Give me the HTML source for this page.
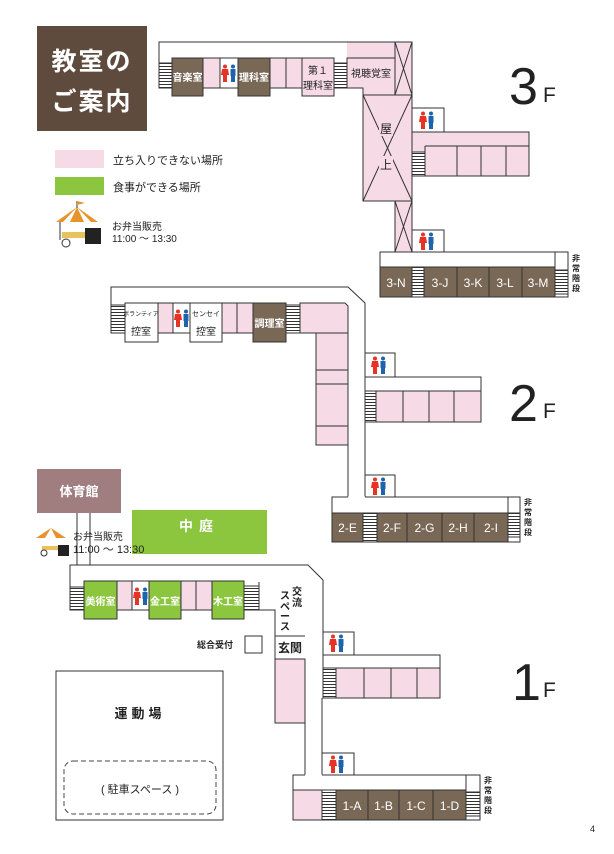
<!DOCTYPE html>
<html><head><meta charset="utf-8"><style>
html,body{margin:0;padding:0;background:#fff}
svg{display:block}
text{font-family:"Liberation Sans","Noto Sans CJK JP",sans-serif}
.l{stroke:#333;stroke-width:1;fill:none}
.p{fill:#f6dbe6;stroke:#333;stroke-width:1}
.w{fill:#fff;stroke:#333;stroke-width:1}
.b{fill:#7a6857;stroke:#333;stroke-width:1}
.g{fill:#8cc63f;stroke:#333;stroke-width:1}
.s{fill:url(#st);stroke:#333;stroke-width:1}
.bt{fill:#fff;font-size:10px;font-weight:bold}
.rt{fill:#fff;font-size:12px}
.kt{fill:#222;font-size:10px}
</style></head><body>
<svg width="614" height="854" viewBox="0 0 614 854" xmlns="http://www.w3.org/2000/svg">
<defs>
<pattern id="st" width="10" height="3" patternUnits="userSpaceOnUse"><rect width="10" height="3" fill="#fff"/><line x1="0" y1="0.5" x2="10" y2="0.5" stroke="#333" stroke-width="1"/></pattern>
<symbol id="wc" viewBox="0 0 16 18"><circle cx="4" cy="2.5" r="2" fill="#e63325"/><path d="M1,5 H7 L8,11 H6 V18 H2 V11 H0 Z" fill="#e63325"/><circle cx="12" cy="2.5" r="2" fill="#1e64ad"/><rect x="9.5" y="5" width="5" height="7" fill="#1e64ad"/><rect x="10" y="11" width="4" height="7" fill="#1e64ad"/></symbol>
</defs>

<rect x="37" y="26" width="110" height="105" fill="#5e4b3d"/>
<text x="92" y="70" text-anchor="middle" font-size="25" font-weight="bold" fill="#fff" letter-spacing="2">教室の</text>
<text x="92" y="110" text-anchor="middle" font-size="25" font-weight="bold" fill="#fff" letter-spacing="2">ご案内</text>
<rect x="55" y="150" width="49" height="18" fill="#f6dbe6"/>
<text x="113" y="164" font-size="11" fill="#222">立ち入りできない場所</text>
<rect x="55" y="177" width="49" height="18" fill="#8cc63f"/>
<text x="113" y="191" font-size="11" fill="#222">食事ができる場所</text>
<g>
<path d="M56,222 L77,207 L98,222 Z" fill="#e8922c"/><path d="M63,222 L77,207 L70,222 Z M77,207 L84,222 L91,222 Z" fill="#fff"/>
<line x1="77" y1="201" x2="77" y2="208" stroke="#333"/><path d="M77,201 L85,203 L77,205Z" fill="#e8922c"/>
<line x1="60" y1="222" x2="60" y2="240" stroke="#333"/><rect x="62" y="232" width="24" height="6" fill="#e8c25a"/>
<circle cx="66" cy="243" r="4" fill="#fff" stroke="#333"/><rect x="85" y="228" width="16" height="16" fill="#222"/>
</g>
<text x="112" y="230" font-size="10" fill="#222">お弁当販売</text>
<text x="112" y="242" font-size="10" fill="#222">11:00 ～ 13:30</text>

<!-- 3F -->
<rect x="347" y="42" width="65" height="16" fill="#f6dbe6"/>
<path class="l" d="M159,63 V42 H412"/>
<rect class="s" x="159" y="63" width="13" height="25"/>
<rect class="b" x="172" y="58" width="31" height="38"/><text class="bt" x="187.5" y="81" text-anchor="middle">音楽室</text>
<rect class="p" x="203" y="58" width="17" height="30"/>
<rect class="w" x="220" y="58" width="18" height="30"/><use href="#wc" x="221" y="64" width="16" height="18"/>
<rect class="b" x="238" y="58" width="32" height="38"/><text class="bt" x="254" y="81" text-anchor="middle">理科室</text>
<rect class="p" x="270" y="58" width="16" height="30"/>
<rect class="p" x="286" y="58" width="16" height="30"/>
<rect class="p" x="302" y="58" width="32" height="38"/>
<text class="kt" x="318" y="74" text-anchor="middle">第１</text><text class="kt" x="318" y="89" text-anchor="middle">理科室</text>
<rect class="s" x="334" y="63" width="13" height="25"/>
<path class="p" d="M347,58 H395 V95 H363 V88 H347 Z"/>
<text class="kt" x="371" y="77" text-anchor="middle">視聴覚室</text>
<rect class="p" x="395" y="42" width="17" height="53"/><path class="l" d="M395,42 L412,95 M412,42 L395,95"/>
<rect class="p" x="363" y="95" width="49" height="106"/><path class="l" d="M363,95 L412,201 M412,95 L363,201"/>
<rect x="379" y="120" width="14" height="16" fill="#f6dbe6"/><text x="386" y="133" font-size="12" fill="#222" text-anchor="middle">屋</text>
<rect x="379" y="156" width="14" height="16" fill="#f6dbe6"/><text x="386" y="169" font-size="12" fill="#222" text-anchor="middle">上</text>
<rect class="p" x="395" y="201" width="17" height="51"/><path class="l" d="M395,201 L412,252 M412,201 L395,252"/>
<rect class="w" x="412" y="108" width="32" height="24"/><use href="#wc" x="419" y="111" width="16" height="18"/>
<rect class="p" x="412" y="132" width="117" height="44"/>
<rect class="s" x="412" y="152" width="13" height="24"/>
<path class="l" d="M425,146 H529 M425,146 V176 M457,146 V176 M481,146 V176 M506,146 V176"/>
<rect class="w" x="412" y="230" width="32" height="22"/><use href="#wc" x="419" y="232" width="16" height="18"/>
<rect class="w" x="380" y="252" width="175" height="15"/>
<rect class="b" x="380" y="267" width="32" height="30"/><text class="rt" x="396" y="287" text-anchor="middle">3-N</text>
<rect class="s" x="412" y="267" width="12" height="30"/>
<rect class="b" x="424" y="267" width="33" height="30"/><text class="rt" x="440" y="287" text-anchor="middle">3-J</text>
<rect class="b" x="457" y="267" width="32" height="30"/><text class="rt" x="473" y="287" text-anchor="middle">3-K</text>
<rect class="b" x="489" y="267" width="33" height="30"/><text class="rt" x="505" y="287" text-anchor="middle">3-L</text>
<rect class="b" x="522" y="267" width="33" height="30"/><text class="rt" x="538" y="287" text-anchor="middle">3-M</text>
<rect class="w" x="555" y="252" width="13" height="45"/><rect class="s" x="555" y="270" width="13" height="24"/>
<text font-size="8" fill="#222" font-weight="bold"><tspan x="572" y="261">非</tspan><tspan x="572" y="271">常</tspan><tspan x="572" y="281">階</tspan><tspan x="572" y="291">段</tspan></text>
<text x="509" y="104" font-size="52" font-weight="300" fill="#222">3</text><text x="543" y="102" font-size="21" fill="#222">F</text>

<!-- 2F -->
<path class="l" d="M111,305 V287 H348 L365,303 V353"/>
<rect class="s" x="111" y="305" width="14" height="28"/>
<rect class="w" x="125" y="303" width="33" height="39"/>
<text x="141" y="316" font-size="6" fill="#222" text-anchor="middle">ボランティア</text><text class="kt" x="141" y="335" text-anchor="middle">控室</text>
<rect class="p" x="158" y="303" width="15" height="30"/>
<rect class="w" x="173" y="303" width="17" height="30"/><use href="#wc" x="174" y="309" width="16" height="18"/>
<rect class="w" x="190" y="303" width="32" height="39"/>
<text x="206" y="316" font-size="7" fill="#222" text-anchor="middle">センセイ</text><text class="kt" x="206" y="335" text-anchor="middle">控室</text>
<rect class="p" x="222" y="303" width="15" height="30"/>
<rect class="p" x="237" y="303" width="16" height="30"/>
<rect class="b" x="253" y="303" width="33" height="39"/><text class="bt" x="269.5" y="327" text-anchor="middle">調理室</text>
<rect class="s" x="286" y="305" width="14" height="28"/>
<path class="p" d="M300,303 H345 L348,306 V445 H316 V333 H300 Z"/>
<path class="l" d="M316,333 H348 M316,370 H348 M316,384 H348 M316,426 H348 M348,333 V497"/>
<rect class="w" x="365" y="353" width="30" height="24"/><use href="#wc" x="371" y="356" width="16" height="18"/>
<rect class="w" x="365" y="377" width="116" height="14"/>
<rect class="p" x="376" y="391" width="105" height="31"/>
<rect class="s" x="365" y="391" width="11" height="31"/>
<path class="l" d="M403,391 V422 M429,391 V422 M454,391 V422 M365,422 V475"/>
<rect class="w" x="365" y="475" width="30" height="22"/><use href="#wc" x="371" y="477" width="16" height="18"/>
<rect class="w" x="332" y="497" width="176" height="16"/>
<line x1="348" y1="497" x2="365" y2="497" stroke="#fff" stroke-width="1"/>
<rect class="b" x="332" y="513" width="31" height="29"/><text class="rt" x="347.5" y="532" text-anchor="middle">2-E</text>
<rect class="s" x="363" y="513" width="14" height="29"/>
<rect class="b" x="377" y="513" width="30" height="29"/><text class="rt" x="392" y="532" text-anchor="middle">2-F</text>
<rect class="b" x="407" y="513" width="35" height="29"/><text class="rt" x="424.5" y="532" text-anchor="middle">2-G</text>
<rect class="b" x="442" y="513" width="32" height="29"/><text class="rt" x="458" y="532" text-anchor="middle">2-H</text>
<rect class="b" x="474" y="513" width="34" height="29"/><text class="rt" x="491" y="532" text-anchor="middle">2-I</text>
<rect class="w" x="508" y="497" width="12" height="45"/><rect class="s" x="508" y="513" width="12" height="24"/>
<text font-size="8" fill="#222" font-weight="bold"><tspan x="524" y="505">非</tspan><tspan x="524" y="515">常</tspan><tspan x="524" y="525">階</tspan><tspan x="524" y="535">段</tspan></text>
<text x="509" y="421" font-size="52" font-weight="300" fill="#222">2</text><text x="543" y="418" font-size="21" fill="#222">F</text>

<!-- 1F -->
<rect x="37" y="469" width="84" height="44" fill="#a07e80"/>
<text x="79" y="496" text-anchor="middle" font-size="13" font-weight="bold" fill="#fff">体育館</text>
<path class="l" d="M77,513 V565 M90,513 V565"/>
<rect x="132" y="510" width="135" height="44" fill="#8cc63f"/>
<text x="199" y="531" text-anchor="middle" font-size="14" font-weight="bold" fill="#fff" letter-spacing="6">中庭</text>
<g>
<path d="M36,538 L51,528 L66,538 Z" fill="#e8922c"/><path d="M45,538 L51,528 L56,538Z" fill="#fff"/>
<rect x="42" y="546" width="18" height="4" fill="#e8c25a"/><circle cx="44" cy="553" r="3" fill="#fff" stroke="#333"/>
<rect x="58" y="545" width="11" height="11" fill="#222"/>
</g>
<text x="73" y="540" font-size="10" fill="#222">お弁当販売</text>
<text x="73" y="553" font-size="11" fill="#222">11:00 ～ 13:30</text>
<path class="l" d="M70,587 V565 H308 L323,580 V632"/>
<rect class="s" x="70" y="587" width="14" height="23"/>
<rect class="g" x="84" y="581" width="33" height="38"/><text class="bt" x="100.5" y="605" text-anchor="middle">美術室</text>
<rect class="p" x="117" y="581" width="15" height="29"/>
<rect class="w" x="132" y="581" width="17" height="29"/><use href="#wc" x="133" y="587" width="16" height="18"/>
<rect class="g" x="149" y="581" width="32" height="38"/><text class="bt" x="165" y="605" text-anchor="middle">金工室</text>
<rect class="p" x="181" y="581" width="15" height="29"/>
<rect class="p" x="196" y="581" width="16" height="29"/>
<rect class="g" x="212" y="581" width="32" height="38"/><text class="bt" x="228" y="605" text-anchor="middle">木工室</text>
<rect class="s" x="244" y="586" width="15" height="24"/>
<path class="l" d="M259,582 V610 M244,610 H275 V723 M275,636 H305 M305,659 V775"/>
<text font-size="10" fill="#222" font-weight="bold"><tspan x="292" y="595">交</tspan><tspan x="292" y="606">流</tspan></text>
<text font-size="10" fill="#222" font-weight="bold"><tspan x="280" y="599">ス</tspan><tspan x="280" y="610">ペ</tspan><tspan x="280" y="620">ー</tspan><tspan x="280" y="630">ス</tspan></text>
<text x="290" y="652" text-anchor="middle" font-size="12" font-weight="bold" fill="#222">玄関</text>
<rect class="p" x="275" y="659" width="30" height="64"/>
<text x="197" y="648" font-size="9" fill="#222" font-weight="bold">総合受付</text>
<rect class="w" x="245" y="636" width="17" height="17"/>
<rect class="w" x="56" y="671" width="167" height="149"/>
<text x="140" y="718" text-anchor="middle" font-size="13" font-weight="bold" fill="#222" letter-spacing="4">運動場</text>
<rect x="64" y="761" width="152" height="53" rx="9" fill="none" stroke="#444" stroke-dasharray="5,3"/>
<text x="140" y="793" text-anchor="middle" font-size="11" fill="#222">( 駐車スペース )</text>
<rect class="w" x="323" y="632" width="31" height="23"/><use href="#wc" x="329" y="634" width="16" height="18"/>
<rect class="w" x="323" y="655" width="117" height="13"/>
<rect class="p" x="336" y="668" width="104" height="30"/>
<rect class="s" x="323" y="668" width="13" height="30"/>
<path class="l" d="M364,668 V698 M391,668 V698 M417,668 V698 M322,698 V753"/>
<rect class="w" x="322" y="753" width="32" height="22"/><use href="#wc" x="329" y="755" width="16" height="18"/>
<rect class="w" x="293" y="775" width="173" height="15"/>
<line x1="305" y1="775" x2="322" y2="775" stroke="#fff"/>
<rect class="p" x="293" y="790" width="29" height="30"/>
<rect class="s" x="322" y="790" width="14" height="30"/>
<rect class="b" x="336" y="790" width="32" height="30"/><text class="rt" x="352" y="810" text-anchor="middle">1-A</text>
<rect class="b" x="368" y="790" width="31" height="30"/><text class="rt" x="383.5" y="810" text-anchor="middle">1-B</text>
<rect class="b" x="399" y="790" width="34" height="30"/><text class="rt" x="416" y="810" text-anchor="middle">1-C</text>
<rect class="b" x="433" y="790" width="33" height="30"/><text class="rt" x="449.5" y="810" text-anchor="middle">1-D</text>
<rect class="w" x="466" y="775" width="14" height="45"/><rect class="s" x="466" y="792" width="14" height="24"/>
<text font-size="8" fill="#222" font-weight="bold"><tspan x="484" y="783">非</tspan><tspan x="484" y="793">常</tspan><tspan x="484" y="803">階</tspan><tspan x="484" y="813">段</tspan></text>
<text x="512" y="700" font-size="52" font-weight="300" fill="#222">1</text><text x="543" y="697" font-size="21" fill="#222">F</text>

<text x="590" y="832" font-size="9" fill="#222">4</text>
</svg>
</body></html>
